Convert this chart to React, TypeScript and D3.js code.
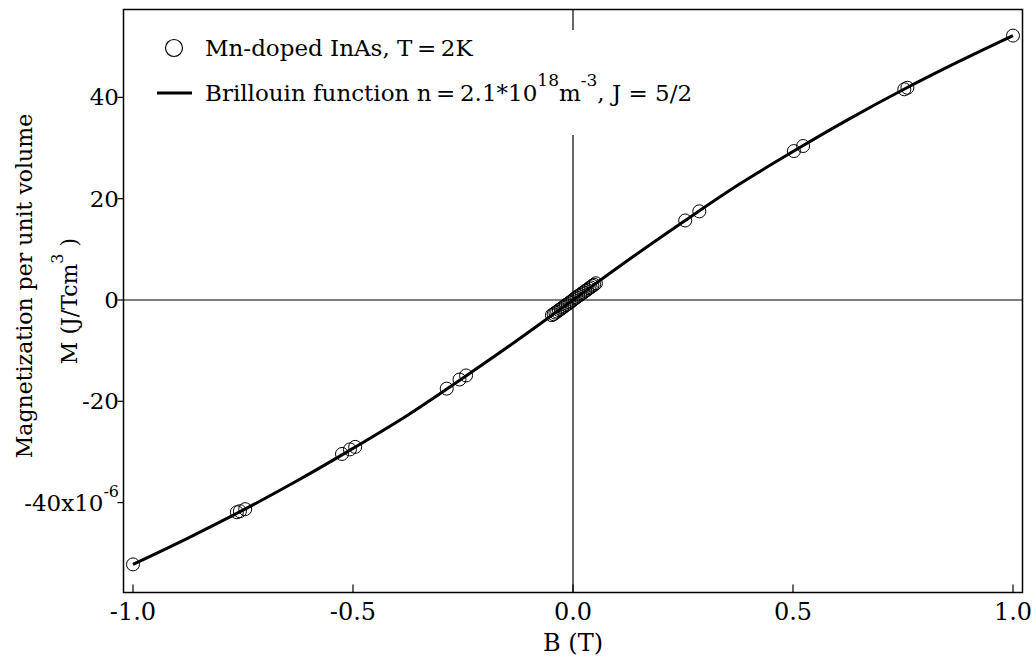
import React from "react";
import * as d3 from "d3";

const W = 1032;
const H = 659;
const FONT = "'DejaVu Serif', serif";

// Plot frame (pixel box of the axes)
const frame = { left: 123.5, right: 1022.5, top: 9.5, bottom: 592.5 };

// Axis ticks
const xTicks = [-1.0, -0.5, 0.0, 0.5, 1.0];
const xTickLabels = ["-1.0", "-0.5", "0.0", "0.5", "1.0"];
const yTicks = [-40, -20, 0, 20, 40];
const yTickLabels = ["-40x10", "-20", "0", "20", "40"];

// Measured magnetization, Mn-doped InAs at T = 2 K (B in tesla, M in 1e-6 J/Tcm^3)
const dataB = [
  -1.0, -0.764, -0.757, -0.745, -0.525, -0.507, -0.495, -0.287, -0.258, -0.243,
  -0.048, -0.044, -0.04, -0.036, -0.032, -0.028, -0.024, -0.02, -0.016, -0.012,
  -0.008, -0.004, 0.0, 0.004, 0.008, 0.012, 0.016, 0.02, 0.024, 0.028, 0.032,
  0.036, 0.04, 0.044, 0.048, 0.052,
  0.255, 0.287, 0.502, 0.523, 0.753, 0.76, 1.0,
];
const dataM = [
  -52.2, -41.9, -41.7, -41.3, -30.4, -29.5, -29.0, -17.5, -15.7, -14.9,
  -3.0, -2.8, -2.5, -2.3, -2.0, -1.8, -1.5, -1.3, -1.0, -0.8,
  -0.5, -0.3, 0.0, 0.3, 0.5, 0.8, 1.0, 1.3, 1.5, 1.8, 2.0,
  2.3, 2.5, 2.8, 3.0, 3.3,
  15.7, 17.5, 29.4, 30.4, 41.6, 41.9, 52.2,
];

// Brillouin-function fit (n = 2.1e18 m^-3, J = 5/2)
const fitB = [-1.0, -0.875, -0.75, -0.625, -0.5, -0.375, -0.25, -0.125, 0, 0.125, 0.25, 0.375, 0.5, 0.625, 0.75, 0.875, 1.0];
const fitM = [-52.2, -47.0, -41.5, -35.6, -29.3, -22.7, -15.4, -7.85, 0, 7.85, 15.4, 22.7, 29.3, 35.6, 41.5, 47.0, 52.2];

export default function App() {
  const x = d3.scaleLinear().domain([-1.0216, 1.0216]).range([frame.left, frame.right]);
  const y = d3.scaleLinear().domain([-57.75, 57.35]).range([frame.bottom, frame.top]);

  const fitPath = d3
    .line<number>()
    .x((_, i) => x(fitB[i]))
    .y((d) => y(d))
    .curve(d3.curveMonotoneX)(fitM) as string;

  const x0 = x(0);
  const y0 = y(0);

  return (
    <svg
      width={W}
      height={H}
      viewBox={`0 0 ${W} ${H}`}
      style={{ position: "absolute", left: 0, top: 0, background: "#fff" }}
      fontFamily={FONT}
    >
      <rect x={0} y={0} width={W} height={H} fill="#fff" />

      {/* zero lines */}
      <line x1={x0} x2={x0} y1={frame.top} y2={frame.bottom} stroke="#000" strokeWidth={1.2} />
      <line x1={frame.left} x2={frame.right} y1={y0} y2={y0} stroke="#000" strokeWidth={1.2} />

      {/* legend background */}
      <rect x={150} y={30} width={590} height={105} fill="#fff" />

      {/* fit curve */}
      <path d={fitPath} fill="none" stroke="#000" strokeWidth={3} strokeLinejoin="round" />

      {/* data points */}
      {dataM.map((m, i) => (
        <circle key={i} cx={x(dataB[i])} cy={y(m)} r={6.5} fill="none" stroke="#000" strokeWidth={1} />
      ))}

      {/* frame */}
      <rect
        x={frame.left}
        y={frame.top}
        width={frame.right - frame.left}
        height={frame.bottom - frame.top}
        fill="none"
        stroke="#000"
        strokeWidth={1.5}
      />

      {/* x ticks */}
      {xTicks.map((t, i) => (
        <g key={t}>
          <line x1={x(t)} x2={x(t)} y1={frame.bottom} y2={frame.bottom - 8} stroke="#000" strokeWidth={1.2} />
          <text x={x(t)} y={620} textAnchor="middle" fontSize={24}>
            {xTickLabels[i]}
          </text>
        </g>
      ))}

      {/* y ticks */}
      {yTicks.map((t, i) => (
        <g key={t}>
          <line x1={frame.left - 6} x2={frame.left} y1={y(t)} y2={y(t)} stroke="#000" strokeWidth={1.2} />
          {t === -40 ? (
            <text x={119} y={y(t) + 8} textAnchor="end" fontSize={23}>
              <tspan>{yTickLabels[i]}</tspan>
              <tspan dy={-14} fontSize={16}>-6</tspan>
            </text>
          ) : (
            <text x={119} y={y(t) + 8} textAnchor="end" fontSize={23}>
              {yTickLabels[i]}
            </text>
          )}
        </g>
      ))}

      {/* axis titles */}
      <text x={573} y={651} textAnchor="middle" fontSize={24}>B (T)</text>
      <text transform="translate(32,286) rotate(-90)" textAnchor="middle" fontSize={22}>
        Magnetization per unit volume
      </text>
      <text transform="translate(77,301) rotate(-90)" textAnchor="middle" fontSize={22}>
        <tspan>M (J/Tcm</tspan>
        <tspan dy={-14} fontSize={16}>3</tspan>
        <tspan dy={14}> )</tspan>
      </text>

      {/* legend */}
      <circle cx={174} cy={48} r={8.5} fill="none" stroke="#000" strokeWidth={1.2} />
      <text x={205} y={56} fontSize={23}>Mn-doped InAs, T{"\u2009"}={"\u2009"}2K</text>
      <line x1={157} x2={192} y1={93} y2={93} stroke="#000" strokeWidth={3} />
      <text x={205} y={101} fontSize={23}>
        <tspan>Brillouin function n{"\u2009"}={"\u2009"}2.1*10</tspan>
        <tspan dy={-15} fontSize={17}>18</tspan>
        <tspan dy={15}>m</tspan>
        <tspan dy={-15} fontSize={17}>-3</tspan>
        <tspan dy={15}>, J = 5/2</tspan>
      </text>
    </svg>
  );
}
